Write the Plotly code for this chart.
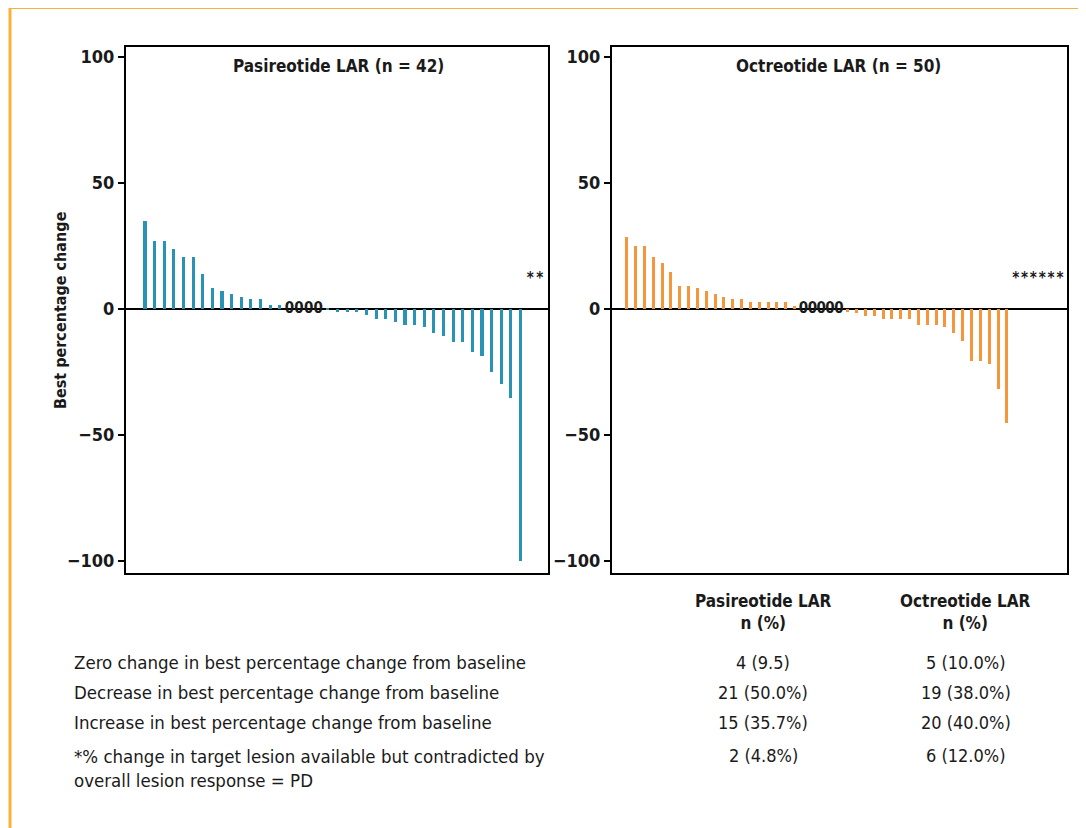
import plotly.graph_objects as go

W, H = 1086, 828
OFF = 8  # browser body margin
FW, FH = W - OFF, H - OFF

# ---------------- data ----------------
pas_title = "Pasireotide LAR (n = 42)"
oct_title = "Octreotide LAR (n = 50)"
# best percentage change per patient, sorted; None = "*" (contradicted by overall response = PD)
pas_change = [35.0, 27.1, 27.1, 23.8, 20.5, 20.5, 13.9, 8.2, 7.1, 5.8, 4.8, 3.8, 3.8, 1.5, 1.5,
              0, 0, 0, 0,
              -0.4, -1.3, -1.3, -1.3, -2.4, -4.0, -4.0, -5.0, -6.2, -6.2, -7.3, -9.5, -10.6,
              -13.0, -13.0, -17.2, -18.5, -25.1, -29.6, -35.3, -100.0,
              None, None]
oct_change = [28.4, 25.1, 25.1, 20.5, 18.4, 14.8, 9.3, 9.3, 8.2, 7.1, 6.0, 4.9, 3.8, 3.8,
              2.6, 2.6, 2.6, 2.6, 2.6, 1.3,
              0, 0, 0, 0, 0,
              -1.3, -1.6, -2.6, -2.6, -4.0, -4.0, -4.0, -4.0, -6.2, -6.2, -6.2, -7.3, -9.5,
              -12.8, -20.8, -20.8, -21.7, -31.7, -45.2,
              None, None, None, None, None, None]
y_ticks = [100, 50, 0, -50, -100]
y_tick_labels = ["<b>100</b>", "<b>50</b>", "<b>0</b>", "<b>\u221250</b>", "<b>\u2212100</b>"]
y_title = "Best percentage change"

table_headers = ["<b>Pasireotide LAR</b><br><b>n (%)</b>", "<b>Octreotide LAR</b><br><b>n (%)</b>"]
table_rows = ["Zero change in best percentage change from baseline",
              "Decrease in best percentage change from baseline",
              "Increase in best percentage change from baseline",
              "*% change in target lesion available but contradicted by<br>overall lesion response = PD"]
table_pas = ["4 (9.5)", "21 (50.0%)", "15 (35.7%)", "2 (4.8%)"]
table_oct = ["5 (10.0%)", "19 (38.0%)", "20 (40.0%)", "6 (12.0%)"]

BLUE = "#2893b5"
ORANGE = "#f6963c"
FONT = "Liberation Sans Narrow, DejaVu Sans Condensed, Arial Narrow, Liberation Sans, sans-serif"
TXT = "#1a1a1a"


def px(x):
    return (x - OFF) / FW


def py(y):
    return 1 - (y - OFF) / FH


fig = go.Figure()


def add_panel(values, color, xaxis, yaxis, width):
    idx = list(range(len(values)))
    bx = [i for i, v in zip(idx, values) if v is not None and v != 0]
    by = [v for v in values if v is not None and v != 0]
    fig.add_trace(go.Bar(x=bx, y=by, marker_color=color, marker_line_width=0, width=width,
                         xaxis=xaxis, yaxis=yaxis, showlegend=False))
    zx = [i for i, v in zip(idx, values) if v == 0]
    fig.add_trace(go.Scatter(x=zx, y=[0] * len(zx), mode="text", text=["<b>0</b>"] * len(zx),
                             textfont=dict(family=FONT, size=15, color=TXT),
                             xaxis=xaxis, yaxis=yaxis, showlegend=False))
    sx = [i for i, v in zip(idx, values) if v is None]
    fig.add_trace(go.Scatter(x=sx, y=[12] * len(sx), mode="text", text=["<b>*</b>"] * len(sx),
                             textfont=dict(family=FONT, size=15, color=TXT),
                             xaxis=xaxis, yaxis=yaxis, showlegend=False))


add_panel(pas_change, BLUE, "x", "y", 0.32)
add_panel(oct_change, ORANGE, "x2", "y2", 0.34)

y_top, y_bot = 47, 573
yr = [-104.8, 104.0]
common_y = dict(range=yr, tickvals=y_ticks, ticktext=y_tick_labels, ticks="outside", ticklen=6,
                tickwidth=2, tickcolor="black", showline=True, linecolor="black", linewidth=2,
                mirror=True, showgrid=False, zeroline=True, zerolinecolor="black", zerolinewidth=2,
                tickfont=dict(family=FONT, size=18, color=TXT),
                domain=[py(y_bot), py(y_top)])
common_x = dict(showticklabels=False, ticks="", showline=True, linecolor="black", linewidth=2,
                mirror=True, showgrid=False, zeroline=False)

fig.update_layout(
    width=FW, height=FH, margin=dict(l=0, r=0, t=0, b=0),
    paper_bgcolor="white", plot_bgcolor="white", bargap=0,
    xaxis=dict(common_x, domain=[px(126), px(548)], range=[-1.97, 41.85]),
    xaxis2=dict(common_x, domain=[px(612), px(1067)], range=[-1.66, 49.8]),
    yaxis=dict(common_y, anchor="x"),
    yaxis2=dict(common_y, anchor="x2"),
)

ann = []
ann.append(dict(text="<b>" + y_title + "</b>", x=px(60), y=py(310), textangle=-90,
                font=dict(family=FONT, size=16, color=TXT)))
ann.append(dict(text="<b>" + pas_title + "</b>", x=px(338), y=py(66),
                font=dict(family=FONT, size=17, color=TXT)))
ann.append(dict(text="<b>" + oct_title + "</b>", x=px(838), y=py(66),
                font=dict(family=FONT, size=17, color=TXT)))
for a in ann:
    a.update(xref="paper", yref="paper", showarrow=False, xanchor="center", yanchor="middle")

col_x = [763, 966]
for cx, h in zip(col_x, table_headers):
    ann.append(dict(text=h, x=px(cx), y=py(612), xref="paper", yref="paper", showarrow=False,
                    xanchor="center", yanchor="middle", align="center",
                    font=dict(family=FONT, size=17, color=TXT)))
row_y = [662, 692, 722, 755]
for ry, lab, v1, v2 in zip(row_y, table_rows, table_pas, table_oct):
    ann.append(dict(text=lab, x=px(72), y=py(ry), xref="paper", yref="paper", showarrow=False,
                    xanchor="left", yanchor="top" if "<br>" in lab else "middle", align="left",
                    yshift=11 if "<br>" in lab else 0,
                    font=dict(family=FONT, size=18.5, color=TXT)))
    for cx, v in zip(col_x, [v1, v2]):
        ann.append(dict(text=v, x=px(cx), y=py(ry), xref="paper", yref="paper", showarrow=False,
                        xanchor="center", yanchor="middle",
                        font=dict(family=FONT, size=18, color=TXT)))
fig.update_layout(annotations=ann)

# orange frame (left and top edges)
fig.add_shape(type="line", xref="paper", yref="paper", x0=px(10), x1=1, y0=py(7.5), y1=py(7.5),
              line=dict(color="#f8b13a", width=3))
fig.add_shape(type="line", xref="paper", yref="paper", x0=px(10), x1=px(10), y0=0, y1=py(7.5),
              line=dict(color="#f8b13a", width=3))

fig.write_html("out.html")
